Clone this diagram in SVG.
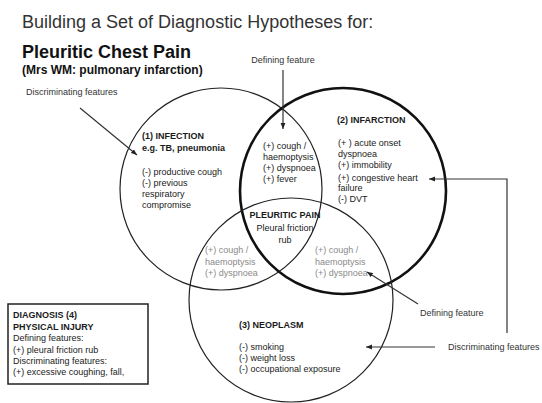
<svg xmlns="http://www.w3.org/2000/svg" width="542" height="403" viewBox="0 0 542 403">
<defs>
<marker id="ah" viewBox="0 0 10 10" refX="10" refY="5" markerWidth="6" markerHeight="6" orient="auto" markerUnits="userSpaceOnUse"><path d="M0,1 L10,5 L0,9 z" fill="#222"/></marker>
<style>
text{font-family:"Liberation Sans",Arial,sans-serif;fill:#1a1a1a}
.t{font-size:9px}
.b{font-weight:bold}
.g{fill:#8a8a8a}
.lbl{font-size:9px;fill:#333}
.thin{fill:none;stroke:#222;stroke-width:1.2}
.thick{fill:none;stroke:#111;stroke-width:2.6}
.con{fill:none;stroke:#333;stroke-width:1.2}
</style>
</defs>
<rect width="542" height="403" fill="#fff"/>
<g id="header">
<text x="22" y="28" font-size="18" style="fill:#333">Building a Set of Diagnostic Hypotheses for:</text>
<text x="22" y="58" font-size="18" class="b" style="fill:#111">Pleuritic Chest Pain</text>
<text x="22" y="74" font-size="12" class="b" style="fill:#111">(Mrs WM: pulmonary infarction)</text>
</g>
<g id="circle-infection"><circle class="thin" cx="221" cy="189" r="101"/></g>
<g id="circle-infarction"><circle class="thick" cx="343" cy="191" r="103"/></g>
<g id="circle-neoplasm"><circle class="thin" cx="291" cy="300" r="102"/></g>
<g id="node-infection">
<text class="t b" x="142" y="139">(1) INFECTION</text>
<text class="t b" x="142" y="151">e.g. TB, pneumonia</text>
<text class="t" x="142" y="175">(-) productive cough</text>
<text class="t" x="142" y="186">(-) previous</text>
<text class="t" x="142" y="197">respiratory</text>
<text class="t" x="142" y="208">compromise</text>
</g>
<g id="node-infection-infarction">
<text class="t" x="263" y="149">(+) cough /</text>
<text class="t" x="263" y="160">haemoptysis</text>
<text class="t" x="263" y="171">(+) dyspnoea</text>
<text class="t" x="263" y="182">(+) fever</text>
</g>
<g id="node-infarction">
<text class="t b" x="337" y="123">(2) INFARCTION</text>
<text class="t" x="338" y="146">(+ ) acute onset</text>
<text class="t" x="338" y="157">dyspnoea</text>
<text class="t" x="338" y="168">(+) immobility</text>
<text class="t" x="338" y="181">(+) congestive heart</text>
<text class="t" x="338" y="191">failure</text>
<text class="t" x="338" y="202">(-) DVT</text>
</g>
<g id="node-pleuritic-pain">
<text class="t b" x="285" y="218" text-anchor="middle">PLEURITIC PAIN</text>
<text class="t" x="285" y="231" text-anchor="middle">Pleural friction</text>
<text class="t" x="285" y="243" text-anchor="middle">rub</text>
</g>
<g id="node-infection-neoplasm">
<text class="t g" x="205" y="253">(+) cough /</text>
<text class="t g" x="205" y="265">haemoptysis</text>
<text class="t g" x="205" y="276">(+) dyspnoea</text>
</g>
<g id="node-infarction-neoplasm">
<text class="t g" x="315" y="253">(+) cough /</text>
<text class="t g" x="315" y="265">haemoptysis</text>
<text class="t g" x="315" y="276">(+) dyspnoea</text>
</g>
<g id="node-neoplasm">
<text class="t b" x="239" y="328">(3) NEOPLASM</text>
<text class="t" x="239" y="350">(-) smoking</text>
<text class="t" x="239" y="361">(-) weight loss</text>
<text class="t" x="239" y="372">(-) occupational exposure</text>
</g>
<g id="node-diagnosis4">
<rect x="8" y="304" width="140" height="80" fill="none" stroke="#222" stroke-width="1.5"/>
<text class="t b" x="13" y="318">DIAGNOSIS (4)</text>
<text class="t b" x="13" y="330">PHYSICAL INJURY</text>
<text class="t" x="13" y="341">Defining features:</text>
<text class="t" x="13" y="353">(+) pleural friction rub</text>
<text class="t" x="13" y="364">Discriminating features:</text>
<text class="t" x="13" y="375">(+) excessive coughing, fall,</text>
</g>
<g id="labels">
<text class="lbl" x="283" y="63" text-anchor="middle">Defining feature</text>
<text class="lbl" x="26" y="95">Discriminating features</text>
<text class="lbl" x="420" y="316">Defining feature</text>
<text class="lbl" x="448" y="350">Discriminating features</text>
</g>
<g id="connectors">
<line class="con" x1="283" y1="70" x2="283" y2="129" marker-end="url(#ah)"/>
<line class="con" x1="80" y1="108" x2="137" y2="155" marker-end="url(#ah)"/>
<line class="con" x1="418" y1="304" x2="367" y2="272" marker-end="url(#ah)"/>
<line class="con" x1="435" y1="347" x2="366" y2="347" marker-end="url(#ah)"/>
<polyline class="con" points="507,333 507,179 429,179" marker-end="url(#ah)"/>
</g>
</svg>
